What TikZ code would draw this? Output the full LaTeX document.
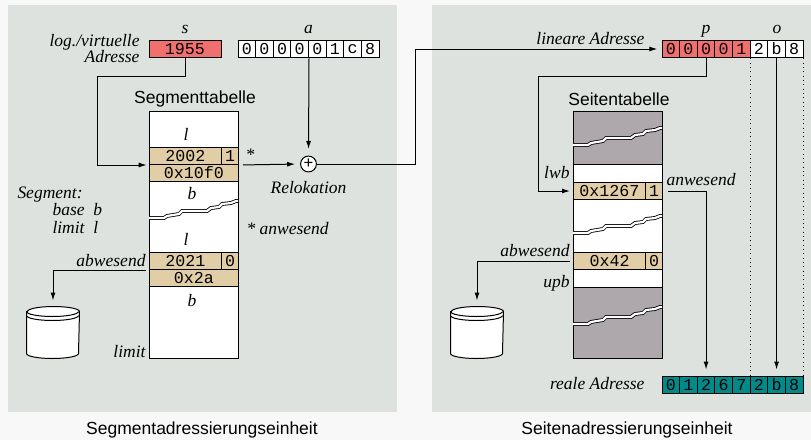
\documentclass[tikz,border=0pt]{standalone}
\usepackage{fontspec}
\setmainfont{Liberation Serif}
\setsansfont{Liberation Sans}
\setmonofont{Liberation Mono}
\usepackage{tikz}
\usetikzlibrary{arrows.meta}

\definecolor{seite}{RGB}{248,248,248}
\definecolor{panel}{RGB}{222,226,222}
\definecolor{adrrot}{RGB}{240,112,112}
\definecolor{eintrag}{RGB}{226,206,166}
\definecolor{tabgrau}{RGB}{174,168,172}
\definecolor{realteal}{RGB}{0,138,138}

\newcommand{\platte}[1]{%
  \draw[fill=white] ([yshift=-3pt]#1.north west) -- ([yshift=3pt]#1.south west)
    arc[start angle=180, end angle=360, x radius=15.6pt, y radius=3pt]
    -- ([yshift=-3pt]#1.north east)
    arc[start angle=0, end angle=180, x radius=15.6pt, y radius=3pt] -- cycle;
  \draw ([yshift=-3pt]#1.north west) arc[start angle=180, end angle=360, x radius=15.6pt, y radius=3pt];
  \draw ([yshift=-5.4pt]#1.north west) arc[start angle=180, end angle=360, x radius=15.6pt, y radius=3pt];}

\begin{document}
\begin{tikzpicture}[x=0.6pt, y=-0.6pt, line width=0.6pt,
    >={Latex[length=4.8pt, width=3pt]},
    zelle/.style={draw, fill=white, minimum width=10.575pt, minimum height=10.6pt, inner sep=0pt, font=\fontsize{10}{12}\ttfamily},
    zeile/.style={draw, fill=eintrag, minimum height=10.2pt, inner sep=0pt, anchor=north west, font=\fontsize{10}{12}\ttfamily},
    block/.style={draw, anchor=north west, minimum width=53.4pt, inner sep=0pt},
    marke/.style={font=\fontsize{10.5}{12.6}\selectfont\itshape, inner sep=0pt},
    titel/.style={font=\fontsize{10.5}{12.6}\sffamily, inner sep=0pt},
    disk/.style={minimum width=31.2pt, minimum height=30.6pt, inner sep=0pt},
    riss/.pic={\draw[line width=0.5pt, double=white, double distance=1.3pt] (0,0) -- (15,0) -- (18,-2) -- (30,-4) -- (33,-7) -- (58,-7) -- (62,-10) -- (70,-11) -- (73,-14) -- (82,-15) -- (87,-17) -- (89,-17);}]
  \useasboundingbox (0,0) rectangle (811,440);
  \fill[seite] (0,0) rectangle (811,440);
  \fill[panel] (8,5) rectangle (397,412);
  \fill[panel] (432,5) rectangle (811,412);
  \node[titel] (segEinheit) at (202,430) {Segmentadressierungseinheit};
  \node[titel] (seitEinheit) at (627,430) {Seitenadressierungseinheit};

  % Segmentadressierung
  \node[zelle, fill=adrrot, minimum width=43.2pt] (sbox) at (185,49) {1955};
  \node[marke, anchor=base] (sName) at (185,33) {s};
  \node[marke, anchor=east, align=right] (logAdr) at (140,49) {log./virtuelle\\[-3pt]Adresse};
  \foreach \z [count=\i] in {0,0,0,0,0,1,c,8}
    \node[zelle] (a\i) at ({229.19+17.625*\i},49) {\z};
  \node[marke, anchor=base] (aName) at (308.5,33) {a};

  \node[titel] (segTitel) at (195,99) {Segmenttabelle};
  \node[block, fill=white, minimum height=148.2pt] (segtab) at (149,111) {};
  \pic at (149,218) {riss};
  \node[zeile, minimum width=43.2pt] (sDesc1) at (149,147) {2002};
  \node[zeile, minimum width=10.2pt] (sFlag1) at (221,147) {1};
  \node[zeile, minimum width=53.4pt] (sBase1) at (149,164) {0x10f0};
  \node[zeile, minimum width=43.2pt] (sDesc2) at (149,252) {2021};
  \node[zeile, minimum width=10.2pt] (sFlag2) at (221,252) {0};
  \node[zeile, minimum width=53.4pt] (sBase2) at (149,269) {0x2a};
  \node[marke] (sL1) at (186,134) {l};
  \node[marke] (sB1) at (192,194) {b};
  \node[marke] (sL2) at (186,239) {l};
  \node[marke] (sB2) at (192,301) {b};
  \node[marke, anchor=east] (sAbw) at (146,261) {abwesend};
  \node[marke, anchor=east] (sLimit) at (146,352) {limit};
  \node[marke] (stern) at (250,155) {*};
  \node[marke, anchor=west] (sternAnw) at (246,229) {* anwesend};
  \node[marke, anchor=north west, align=left] (segInfo) at (17,186) {Segment:\\[-2pt]\hspace*{2em}base\enspace b\\[-2pt]\hspace*{2em}limit\enspace l};
  \node[disk] (disk1) at (53,332.5) {};
  \platte{disk1}
  \node[draw, circle, fill=white, minimum size=9.5pt, inner sep=0pt, font=\fontsize{10}{10}\sffamily] (plus) at (308.5,164) {+};
  \node[marke] (relok) at (308.5,188) {Relokation};

  \coordinate (sKnick) at (97,76);
  \coordinate (linKnick) at (415,49);
  \draw[->, shorten >=1.4pt] (sbox.south) |- (sKnick) |- (sDesc1.south west);
  \draw[->, shorten <=2.4pt, shorten >=3pt] (sFlag1.south east) -- (plus.west);
  \draw[->, shorten >=4pt] (a4.south east) -- (plus.north);
  \draw[->, shorten <=2pt, shorten >=3.6pt] (sDesc2.south west) -| (disk1.north);

  % Seitenadressierung
  \node[marke, anchor=east] (linAdr) at (645,39) {lineare Adresse};
  \foreach \z/\f [count=\i] in {0/adrrot,0/adrrot,0/adrrot,0/adrrot,1/adrrot,2/white,b/white,8/white}
    \node[zelle, fill=\f] (p\i) at ({653.19+17.625*\i},49) {\z};
  \node[marke, anchor=base] (pName) at (706,33) {p};
  \node[marke, anchor=base] (oName) at (777,33) {o};

  \node[titel] (seitTitel) at (619,99) {Seitentabelle};
  \node[block, fill=white, minimum height=148.2pt] (seittab) at (573,111) {};
  \node[block, fill=tabgrau, minimum height=31.8pt] (pOben) at (573,111) {};
  \node[block, fill=tabgrau, minimum height=42.6pt] (pUnten) at (573,287) {};
  \pic at (573,145) {riss};
  \pic at (573,233) {riss};
  \pic at (573,324) {riss};
  \node[zeile, minimum width=43.2pt] (pDesc1) at (573,182) {0x1267};
  \node[zeile, minimum width=10.2pt] (pFlag1) at (645,182) {1};
  \node[zeile, minimum width=43.2pt] (pDesc2) at (573,252) {0x42};
  \node[zeile, minimum width=10.2pt] (pFlag2) at (645,252) {0};
  \node[marke, anchor=east] (lwb) at (570,173) {lwb};
  \node[marke, anchor=east] (upb) at (570,283) {upb};
  \node[marke, anchor=east] (pAbw) at (570,251) {abwesend};
  \node[marke, anchor=west] (pAnw) at (666,180) {anwesend};
  \node[disk] (disk2) at (477,332.5) {};
  \platte{disk2}

  \node[marke, anchor=east] (realAdr) at (645,384) {reale Adresse};
  \foreach \z [count=\i] in {0,1,2,6,7,2,b,8}
    \node[zelle, fill=realteal, minimum height=10pt] (r\i) at ({653.19+17.625*\i},385) {\z};

  \coordinate (pKnick) at (538,76);
  \draw[->, shorten >=2.5pt] (plus.east) -| (linKnick) -- (p1.west);
  \draw[->, shorten >=1.8pt] (p3.south) |- (pKnick) |- (pDesc1.west);
  \draw[->, shorten <=3pt, shorten >=4pt] (pFlag1.east) -| (r3.north);
  \draw[->, shorten >=4pt] (p7.south) -- (r7.north);
  \draw[dotted] (p5.south east) -- (r5.north east);
  \draw[dotted] (p8.south east) -- (r8.north east);
  \draw[->, shorten <=2pt, shorten >=3.6pt] (pDesc2.west) -| (disk2.north);
\end{tikzpicture}
\end{document}
